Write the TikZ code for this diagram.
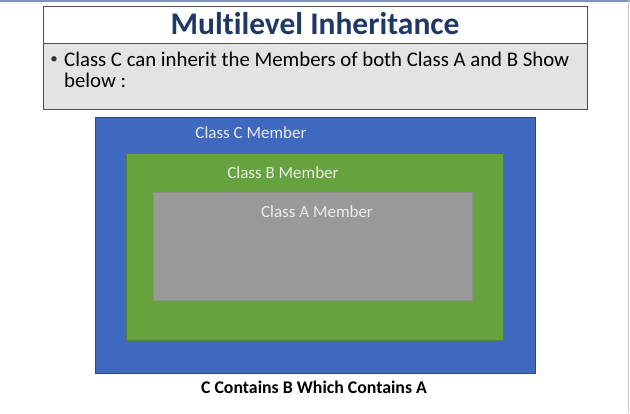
\documentclass[tikz,border=0pt]{standalone}
\usepackage{fontspec}
\setmainfont{Carlito}[Ligatures=NoCommon]
\definecolor{topline}{HTML}{7F93B5}
\definecolor{titleblue}{HTML}{1F3864}
\definecolor{panelgrey}{HTML}{E3E3E3}
\definecolor{classc}{HTML}{3F68BF}
\definecolor{classb}{HTML}{66A23E}
\definecolor{classa}{HTML}{999999}
\tikzset{member/.style={text=white!92!black, font=\fontsize{17}{19}\selectfont, inner sep=0pt}}

\begin{document}
\begin{tikzpicture}[x=1pt,y=-1pt]
\useasboundingbox (0,0) rectangle (630,413);
\fill[white] (0,0) rectangle (630,413);
\draw[topline, line width=1.2pt] (0,1) -- (630,1);
\draw[black!20, line width=1pt] (628,0) -- (628,413);
\draw[black!70, line width=.9pt, fill=white] (43,6) rectangle (587,43);
\draw[black!70, line width=.9pt, fill=panelgrey] (43,43) rectangle (587,109);
\draw[classc!70!black, line width=.6pt, fill=classc] (95,117) rectangle (535,373);
\draw[classb!80!black, line width=.6pt, fill=classb] (126,153) rectangle (503,340);
\draw[black!45, line width=.6pt, fill=classa] (153,192) rectangle (472,300);
\path node (title) at (315,24) {\fontsize{31.5}{34}\selectfont\bfseries\color{titleblue}Multilevel Inheritance};
\path node[inner sep=0pt, font=\fontsize{15}{16}\selectfont, text=black!80] (bullet) at (54,60) {\textbullet};
\path node[anchor=north west, inner sep=0pt, align=left, font=\fontsize{20.8}{21.5}\selectfont] (text) at (64,51.5)
  {Class C can inherit the Members of both Class A and B Show\\ below :};
\path node[member] (memc) at (251,133) {Class C Member};
\path node[member] (memb) at (283,173) {Class B Member};
\path node[member] (mema) at (317,212) {Class A Member};
\path node (caption) at (314,387) {\fontsize{17.8}{20}\selectfont\bfseries C Contains B Which Contains A};
\end{tikzpicture}
\end{document}
